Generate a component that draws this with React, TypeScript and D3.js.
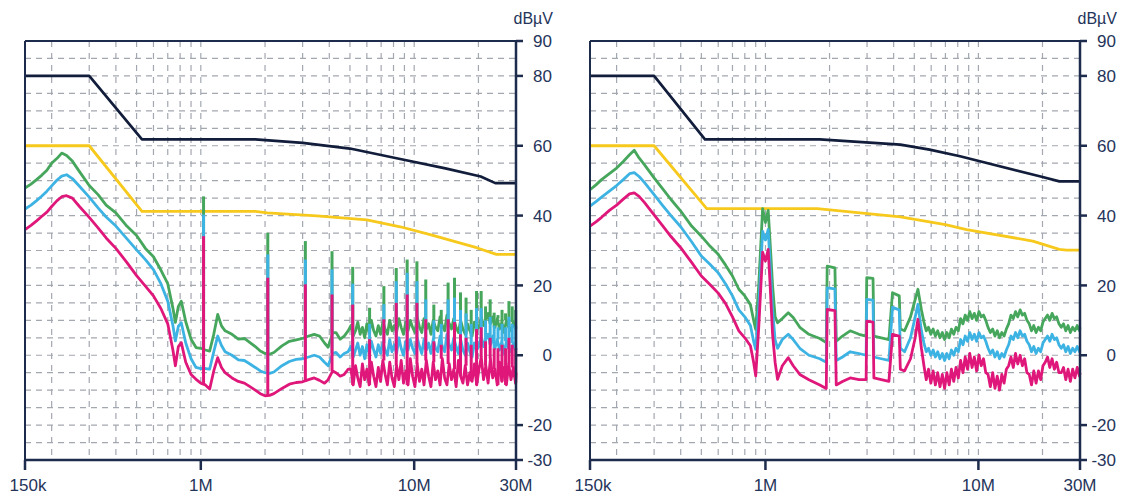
import React from 'react';
import * as d3 from 'd3';

const W = 1124;
const H = 498;

// axis / tick definitions
const yTickVals = [90, 80, 60, 40, 20, 0, -20, -30];
const yGridVals = [85, 80, 75, 70, 65, 60, 55, 50, 45, 40, 35, 30, 25, 20, 15, 10, 5, 0, -5, -10, -15, -20, -25];
const xTickVals = [0.15, 1, 10, 30];
const xTickLabels = ['150k', '1M', '10M', '30M'];
const xGridVals = [0.2, 0.3, 0.4, 0.5, 0.6, 0.7, 0.8, 0.9, 1, 2, 3, 4, 5, 6, 7, 8, 9, 10, 20];

// ---------- LEFT PANEL ----------
const navyL: [number, number][] = [[0.15, 80], [0.3, 80], [0.53, 61.8], [1.8, 61.8], [3, 60.8], [5, 59.2], [8.6, 56.2], [14, 53.5], [20.5, 51.2], [24, 49.3], [30, 49.3]];
const yellowL: [number, number][] = [[0.15, 60], [0.3, 60], [0.53, 41.2], [1.8, 41.2], [2.05, 40.8], [3.5, 39.9], [6, 38.8], [8.6, 36.8], [12, 34.5], [19.6, 30.8], [24.3, 28.9], [30, 28.9]];

const freqL = [
  0.15, 0.16, 0.17, 0.18, 0.19, 0.2, 0.212, 0.223, 0.235, 0.25,
  0.27, 0.3, 0.33, 0.36, 0.4, 0.45, 0.5, 0.55, 0.6, 0.65,
  0.7, 0.74, 0.76, 0.785, 0.81, 0.85, 0.9, 0.95, 1.0, 1.05,
  1.1, 1.15, 1.2, 1.25, 1.3, 1.4, 1.5, 1.6, 1.7, 1.8,
  1.9, 2.0, 2.1, 2.2, 2.4, 2.6, 2.8, 3.0, 3.2, 3.4,
  3.6, 3.8, 3.95, 4.15, 4.3, 4.5, 4.7, 4.9,
  5.05, 5.18, 5.31, 5.44, 5.58, 5.72, 5.86, 6.0, 6.15, 6.3,
  6.46, 6.62, 6.79, 6.96, 7.13, 7.31, 7.49, 7.68, 7.87, 8.07,
  8.27, 8.48, 8.69, 8.91, 9.13, 9.36, 9.59, 9.83, 10.08, 10.33,
  10.59, 10.85, 11.12, 11.4, 11.69, 11.98, 12.28, 12.59, 12.9, 13.22,
  13.55, 13.89, 14.24, 14.6, 14.96, 15.33, 15.72, 16.11, 16.51, 16.92,
  17.35, 17.78, 18.22, 18.68, 19.15, 19.63, 20.12, 20.62, 21.13, 21.66,
  22.2, 22.76, 23.33, 23.91, 24.51, 25.12, 25.75, 26.39, 27.05, 27.73,
  28.42, 29.13, 29.86, 30.0,
];
const greenL = [
  47.9, 49.0, 50.3, 51.6, 53.0, 55.0, 56.4, 57.9, 57.2, 55.6,
  52.6, 48.6, 46.0, 43.0, 40.8, 37.0, 34.3, 30.6, 28.2, 24.4,
  20.5, 13.5, 9.4, 14.0, 15.5, 9.6, 4.6, 2.2, 2.0, 1.5,
  1.2, 6.0, 11.7, 8.4, 7.0, 6.0, 4.6, 4.8, 3.6, 2.5,
  1.2, 0.5, 0.3, 0.8, 2.7, 4.0, 4.4, 4.8, 5.5, 6.0,
  5.5, 3.5, 2.3, 6.5, 6.5, 4.6, 5.5, 7.0,
  8.5, 5.5, 7, 9.5, 6, 8, 5, 9, 6.5, 10,
  7, 5.5, 8.5, 6, 9.5, 7.5, 6, 10, 7, 8.5,
  6.5, 10.5, 8, 6, 9.5, 7, 10, 8, 6.5, 11,
  8, 6.5, 10.5, 7.5, 9, 6, 10, 8, 7, 11,
  8.5, 7, 11.5, 9, 7.5, 10.5, 8, 6.5, 10, 7.5,
  6, 9, 7, 5.5, 9.5, 7.5, 8, 11, 8.5, 10,
  12, 9, 11, 8, 10.5, 7.5, 9.5, 6.5, 10, 8,
  7, 9.5, 7.5, 8,
];
const cyanL = [
  41.9, 43.0, 44.3, 45.6, 47.0, 48.5, 50.2, 51.3, 51.7, 50.6,
  48.4, 45.3, 42.2, 39.6, 37.0, 33.4, 30.2, 27.4, 24.5, 20.5,
  15.5, 8.5, 4.1, 8.3, 9.3, 3.5, -1.0, -3.5, -3.8, -3.8,
  -4.0, 1.0, 5.5, 2.8, 1.0, 0.0, -1.3, -1.5, -2.5, -3.5,
  -4.5, -5.0, -5.2, -4.8, -3.0, -1.8, -1.2, -1.0, -0.5, 0.0,
  -0.5, -2.0, -3.0, 0.5, 0.8, -0.5, 0.5, 1.0,
  2.5, -0.5, 1.5, 3.5, 0, 2.5, -1, 3, 0.5, 4,
  1.5, -0.5, 3, 0.5, 3.5, 1.5, 0, 4.5, 1, 3,
  0.5, 5, 2, 0, 4, 1.5, 4.5, 2, 0.5, 5,
  2.5, 0.5, 4.5, 1.5, 3.5, 0.5, 4.5, 2, 1, 5.5,
  2.5, 1, 6, 3, 1.5, 5, 2.5, 0.5, 4.5, 1.5,
  0, 3.5, 1, -0.5, 3.5, 1.5, 2.5, 5.5, 2.5, 4.5,
  6, 3, 5.5, 2, 4.5, 1.5, 4, 0.5, 4, 2,
  1, 3.5, 1.5, 2,
];
const magentaL = [
  36.0, 37.2, 38.5, 39.8, 41.0, 42.6, 44.3, 45.4, 45.7, 45.0,
  42.6, 39.5, 36.5, 33.6, 30.6, 26.6, 22.8, 19.8, 17.0, 13.4,
  9.0, 1.5, -3.0, 2.5, 3.6, -2.0, -5.5, -6.9, -8.0, -8.5,
  -9.7, -4.5, -0.7, -3.5, -5.0, -6.5, -7.5, -8.0, -9.0, -10.0,
  -11.0, -11.6, -11.5, -11.0, -9.5, -8.3, -7.8, -7.6, -7.0, -6.5,
  -7.2, -8.0, -7.0, -4.5, -5.0, -6.0, -5.5, -4.0,
  -4, -8.5, -3, -6.5, -9, -2.5, -7, -4, -8.5, -2,
  -6, -9, -3.5, -7.5, -1.5, -5.5, -8.5, -2, -6.5, -9,
  -3, -7, -1.5, -8, -4.5, -8.5, -1, -6, -9, -2.5,
  -7.5, -4, -8.5, -1.5, -6, -9, -2, -7, -4.5, -8.5,
  -1, -6.5, -8.5, -2.5, -7, -4, -9, -1.5, -6, -8,
  -3, -8.5, -5, -7.5, -2.5, -8.5, -4, -0.5, -7, -3,
  -8, -1, -6.5, -4, -8.5, -2, -7.5, -3.5, -8.5, -2.5,
  -7, -3.5, -8, -5,
];
// harmonic spikes (MHz) and their peak level per trace
const spikeFreqL = [1.03, 2.06, 3.09, 4.12, 5.15, 6.18, 7.21, 8.24, 9.27, 10.3, 11.33, 12.36, 13.39, 14.42, 15.45, 16.48, 17.5, 18.5, 19.6, 20.6, 21.6, 22.7, 23.7, 24.7, 25.8, 26.8, 27.8, 28.8, 29.9];
const spikeGreenL = [45.5, 35.1, 32.7, 29.8, 25.3, 13.6, 19.8, 25.0, 27.4, 26.9, 21.7, 14.5, 13, 20.8, 22.2, 18, 16.5, 13, 18.4, 18.4, 14, 16, 12.2, 11.5, 13, 12, 15.5, 14, 13];
const spikeCyanL = [40.3, 28.9, 27.4, 24.6, 20.5, 9.0, 14.6, 21.2, 23.6, 21.2, 16.0, 10, 9, 16, 16.5, 13, 12, 9, 13.5, 13.5, 10, 11, 8.5, 8, 9, 8, 11, 9, 8.5];
const spikeMagentaL = [34.1, 22.2, 20.3, 17.4, 14.5, 4.6, 10.3, 15.0, 17.4, 15.0, 10.3, 4, 3, 10.3, 9.5, 6, 5, 3, 7.5, 8, 4, 5, 2, 2, 3, 2, 5, 3, 2];

// ---------- RIGHT PANEL ----------
const navyR: [number, number][] = [[0.15, 80], [0.3, 80], [0.52, 61.8], [1.8, 61.8], [4.3, 60.3], [5.9, 58.9], [8.2, 57], [19.6, 51.2], [24, 49.8], [30, 49.8]];
const yellowR: [number, number][] = [[0.15, 60], [0.3, 60], [0.53, 42], [1.75, 42], [4.3, 39.6], [7, 37.4], [8.8, 36], [18, 32.7], [24, 30.3], [26, 30.1], [30, 30.1]];

const freqR = [
  0.15, 0.16, 0.17, 0.185, 0.2, 0.215, 0.23, 0.242, 0.255, 0.27,
  0.3, 0.33, 0.36, 0.4, 0.45, 0.5, 0.55, 0.6, 0.65, 0.7,
  0.75, 0.8, 0.85, 0.88, 0.9, 0.93, 0.97, 1.0, 1.03, 1.05,
  1.08, 1.11, 1.14, 1.2, 1.28, 1.35, 1.45, 1.6, 1.8, 1.93,
  1.95, 2.12, 2.15, 2.3, 2.5, 2.75, 2.97, 2.99, 3.2, 3.23,
  3.5, 3.8, 3.95, 4.25, 4.3, 4.5, 4.8, 5.05, 5.2, 5.4,
  5.55, 5.69, 5.83, 5.98, 6.13, 6.28, 6.44, 6.6, 6.77, 6.94,
  7.11, 7.29, 7.47, 7.66, 7.85, 8.05, 8.25, 8.46, 8.67, 8.89,
  9.11, 9.34, 9.57, 9.81, 10.06, 10.31, 10.57, 10.83, 11.1, 11.38,
  11.67, 11.96, 12.26, 12.57, 12.88, 13.2, 13.53, 13.87, 14.22, 14.58,
  14.94, 15.31, 15.7, 16.09, 16.49, 16.9, 17.33, 17.76, 18.2, 18.66,
  19.13, 19.61, 20.1, 20.6, 21.12, 21.64, 22.18, 22.74, 23.31, 23.89,
  24.49, 25.1, 25.73, 26.37, 27.03, 27.71, 28.4, 29.11, 29.84, 30.0,
];
const greenR = [
  47.4, 48.8, 50.3, 52.0, 53.6, 55.5, 57.4, 58.7, 56.5, 54.6,
  50.8, 47.6, 44.6, 41.3, 37.0, 34.1, 31.2, 28.9, 25.8, 22.7,
  18.9, 17.0, 14.5, 10.0, 7.4, 20.0, 42.0, 38.0, 41.5, 33.0,
  20.0, 11.0, 9.3, 10.5, 12.2, 10.8, 8.0, 6.0, 4.8, 3.6,
  25.5, 25.0, 4.0, 5.5, 7.0, 6.0, 5.5, 22.2, 22.0, 5.5,
  5.0, 4.5, 17.9, 17.0, 7.5, 7.0, 11.0, 16.0, 18.9, 13.0,
  9.5, 7, 8, 6, 7.5, 5.5, 7, 5, 6.5, 4.5,
  6.5, 5, 7.5, 6, 8, 7, 10.5, 9, 11.5, 10,
  12.5, 10.5, 12, 10, 12.5, 11, 11.5, 10, 8, 6.5,
  7.5, 5.5, 7, 5, 6.5, 5.5, 7.5, 9, 11.5, 10.5,
  12.5, 11, 13, 11.5, 12, 10, 9, 7, 8.5, 6.5,
  8, 7, 9.5, 10.5, 11.5, 10, 12, 10.5, 11, 9,
  8, 9, 7, 8.5, 6.5, 8, 7, 8.5, 7, 8,
];
const cyanR = [
  42.7, 44.0, 45.3, 47.0, 48.6, 50.3, 52.0, 52.3, 51.2, 49.5,
  46.0, 42.8, 40.0, 36.8, 32.5, 28.4, 26.0, 23.6, 20.4, 17.0,
  13.0, 11.0, 8.5, 4.0, 1.7, 14.0, 35.5, 33.0, 36.0, 27.0,
  13.0, 4.5, 2.0, 4.5, 6.0, 4.5, 2.0, 0.0, -1.0, -2.0,
  19.3, 19.0, -1.5, -0.5, 1.0, 0.5, 0.0, 16.0, 15.8, -0.5,
  -1.0, -1.5, 13.7, 13.0, 2.0, 1.0, 5.0, 11.0, 14.6, 7.0,
  3.5, 1, 2, 0, 1.5, -0.5, 1, -1, 0.5, -1.5,
  0.5, -1, 1.5, 0, 2, 1, 4.5, 3, 5.5, 4,
  6.5, 4.5, 6, 4, 6.5, 5, 5.5, 4, 2, 0.5,
  1.5, -0.5, 1, -1, 0.5, -0.5, 1.5, 3, 5.5, 4.5,
  6.5, 5, 7, 5.5, 6, 4, 3, 1, 2.5, 0.5,
  2, 1, 3.5, 4.5, 5.5, 4, 6, 4.5, 5, 3,
  2, 3, 1, 2.5, 0.5, 2, 1, 2.5, 1, 1.5,
];
const magentaR = [
  37.0, 38.2, 39.5, 41.5, 43.0, 44.7, 46.2, 46.5, 45.5, 43.8,
  40.2, 37.0, 34.0, 30.8, 26.6, 22.7, 20.2, 17.8, 14.8, 11.0,
  7.0, 5.0, 2.7, -2.0, -5.9, 8.0, 29.5, 27.0, 30.3, 21.0,
  6.0, -2.0, -6.9, -3.0, -0.7, -3.0, -5.5, -7.0, -8.5, -9.5,
  13.1, 12.8, -8.5, -7.5, -6.5, -7.0, -7.0, 9.8, 9.5, -6.5,
  -7.0, -7.5, 6.0, 5.5, -4.0, -4.5, -1.0, 5.0, 10.3, 2.0,
  -3, -7, -4, -8, -4.5, -8.5, -5, -9, -5.5, -9.5,
  -5, -8.5, -4, -7.5, -3.5, -6.5, -1.5, -5, -0.5, -4,
  0.5, -3.5, -0.5, -4.5, 0, -3, -1, -5, -5.5, -9,
  -5, -9.5, -6, -10, -5.5, -8, -4, -3, -0.5, -3.5,
  0.5, -2.5, 0, -3, -1, -5, -5.5, -8.5, -4.5, -8,
  -4.5, -7, -3, -2, -0.5, -3.5, -1, -4, -2, -5,
  -5, -3.5, -7, -4, -7.5, -4, -6.5, -3.5, -6, -5,
];

const C_NAVY = '#111d3a';
const C_AXIS = '#1d2b4d';
const C_TEXT = '#25345a';
const C_GRID = '#a3a7b0';
const C_YELLOW = '#f6c91c';
const C_GREEN = '#45a65c';
const C_CYAN = '#3db3e3';
const C_MAGENTA = '#e0177a';

const Y_TOP = 41;
const Y_BOT = 460;
const FONT = '"Liberation Sans", Arial, sans-serif';
const TRACE_W = 2.8;

type PanelProps = {
  x0: number;
  x1: number;
  freq: number[];
  g: number[];
  c: number[];
  m: number[];
  navy: [number, number][];
  yellow: [number, number][];
  spikeF?: number[];
  spikeG?: number[];
  spikeC?: number[];
  spikeM?: number[];
};

function Panel(p: PanelProps) {
  const xS = d3.scaleLog().domain([0.15, 30]).range([p.x0, p.x1]);
  const yS = d3.scaleLinear().domain([-30, 90]).range([Y_BOT, Y_TOP]);
  const lim = d3.line<[number, number]>().x(d => xS(d[0])).y(d => yS(d[1]));
  const n = Math.min(p.freq.length, p.g.length, p.c.length, p.m.length);
  const tr = (vals: number[]) =>
    d3.line<number>().x((_, i) => xS(p.freq[i])).y(v => yS(v))(vals.slice(0, n)) || '';
  const bis = d3.bisector((d: number) => d);
  const spikes = (tops: number[] | undefined, base: number[], color: string) =>
    (p.spikeF || []).map((f, k) => {
      const idx = Math.min(n - 1, bis.center(p.freq, f));
      return (
        <line key={k} x1={xS(f)} x2={xS(f)} y1={yS(base[idx])} y2={yS((tops || [])[k])}
          stroke={color} strokeWidth={3} />
      );
    });
  const axisRight = p.x1;
  return (
    <g>
      {/* grid */}
      {yGridVals.map(v => (
        <line key={'h' + v} x1={p.x0} x2={p.x1} y1={yS(v)} y2={yS(v)} stroke={C_GRID}
          strokeWidth={1.2} strokeDasharray="6 5" />
      ))}
      {xGridVals.map(f => (
        <line key={'v' + f} x1={xS(f)} x2={xS(f)} y1={Y_TOP} y2={Y_BOT} stroke={C_GRID}
          strokeWidth={1.2} strokeDasharray="6 6" />
      ))}
      {/* limit lines */}
      <path d={lim(p.navy) || ''} fill="none" stroke={C_NAVY} strokeWidth={2.7} strokeLinejoin="round" />
      <path d={lim(p.yellow) || ''} fill="none" stroke={C_YELLOW} strokeWidth={2.8} strokeLinejoin="round" />
      {/* traces */}
      <path d={tr(p.g)} fill="none" stroke={C_GREEN} strokeWidth={TRACE_W} strokeLinejoin="round" />
      {spikes(p.spikeG, p.g, C_GREEN)}
      <path d={tr(p.c)} fill="none" stroke={C_CYAN} strokeWidth={TRACE_W} strokeLinejoin="round" />
      {spikes(p.spikeC, p.c, C_CYAN)}
      <path d={tr(p.m)} fill="none" stroke={C_MAGENTA} strokeWidth={TRACE_W} strokeLinejoin="round" />
      {spikes(p.spikeM, p.m, C_MAGENTA)}
      {/* frame */}
      <line x1={p.x0} x2={p.x1} y1={Y_TOP} y2={Y_TOP} stroke={C_AXIS} strokeWidth={2} />
      <line x1={p.x0} x2={p.x0} y1={Y_TOP} y2={Y_BOT} stroke={C_AXIS} strokeWidth={2} />
      <line x1={axisRight} x2={axisRight} y1={Y_TOP - 1} y2={Y_BOT + 1} stroke={C_AXIS} strokeWidth={2.5} />
      <line x1={p.x0 - 1} x2={p.x1 + 1} y1={Y_BOT} y2={Y_BOT} stroke={C_AXIS} strokeWidth={2.5} />
      {/* y ticks and labels */}
      {yTickVals.map(v => (
        <g key={'yt' + v}>
          <line x1={axisRight} x2={axisRight + 7} y1={yS(v)} y2={yS(v)} stroke={C_AXIS} strokeWidth={2.5} />
          <text x={axisRight + 36} y={yS(v)} dy="0.36em" textAnchor="end" fontSize={17}
            fontFamily={FONT} fill={C_TEXT}>{v}</text>
        </g>
      ))}
      <text x={axisRight + 37} y={24} textAnchor="end" fontSize={16} fontFamily={FONT} fill={C_TEXT}>dBµV</text>
      {/* x ticks and labels */}
      {xTickVals.map((f, i) => (
        <g key={'xt' + f}>
          <line x1={xS(f)} x2={xS(f)} y1={Y_BOT} y2={Y_BOT + 10} stroke={C_AXIS} strokeWidth={2.5} />
          <text x={xS(f) + (i === 0 ? 3 : 0)} y={491} textAnchor="middle" fontSize={17}
            fontFamily={FONT} fill={C_TEXT}>{xTickLabels[i]}</text>
        </g>
      ))}
    </g>
  );
}

export default function App() {
  return (
    <svg width={W} height={H} viewBox={`0 0 ${W} ${H}`}
      style={{ position: 'absolute', left: 0, top: 0, background: '#fff' }}>
      <rect x={0} y={0} width={W} height={H} fill="#fff" />
      <Panel x0={25} x1={516} freq={freqL} g={greenL} c={cyanL} m={magentaL}
        navy={navyL} yellow={yellowL}
        spikeF={spikeFreqL} spikeG={spikeGreenL} spikeC={spikeCyanL} spikeM={spikeMagentaL} />
      <Panel x0={590} x1={1080} freq={freqR} g={greenR} c={cyanR} m={magentaR}
        navy={navyR} yellow={yellowR} />
    </svg>
  );
}
